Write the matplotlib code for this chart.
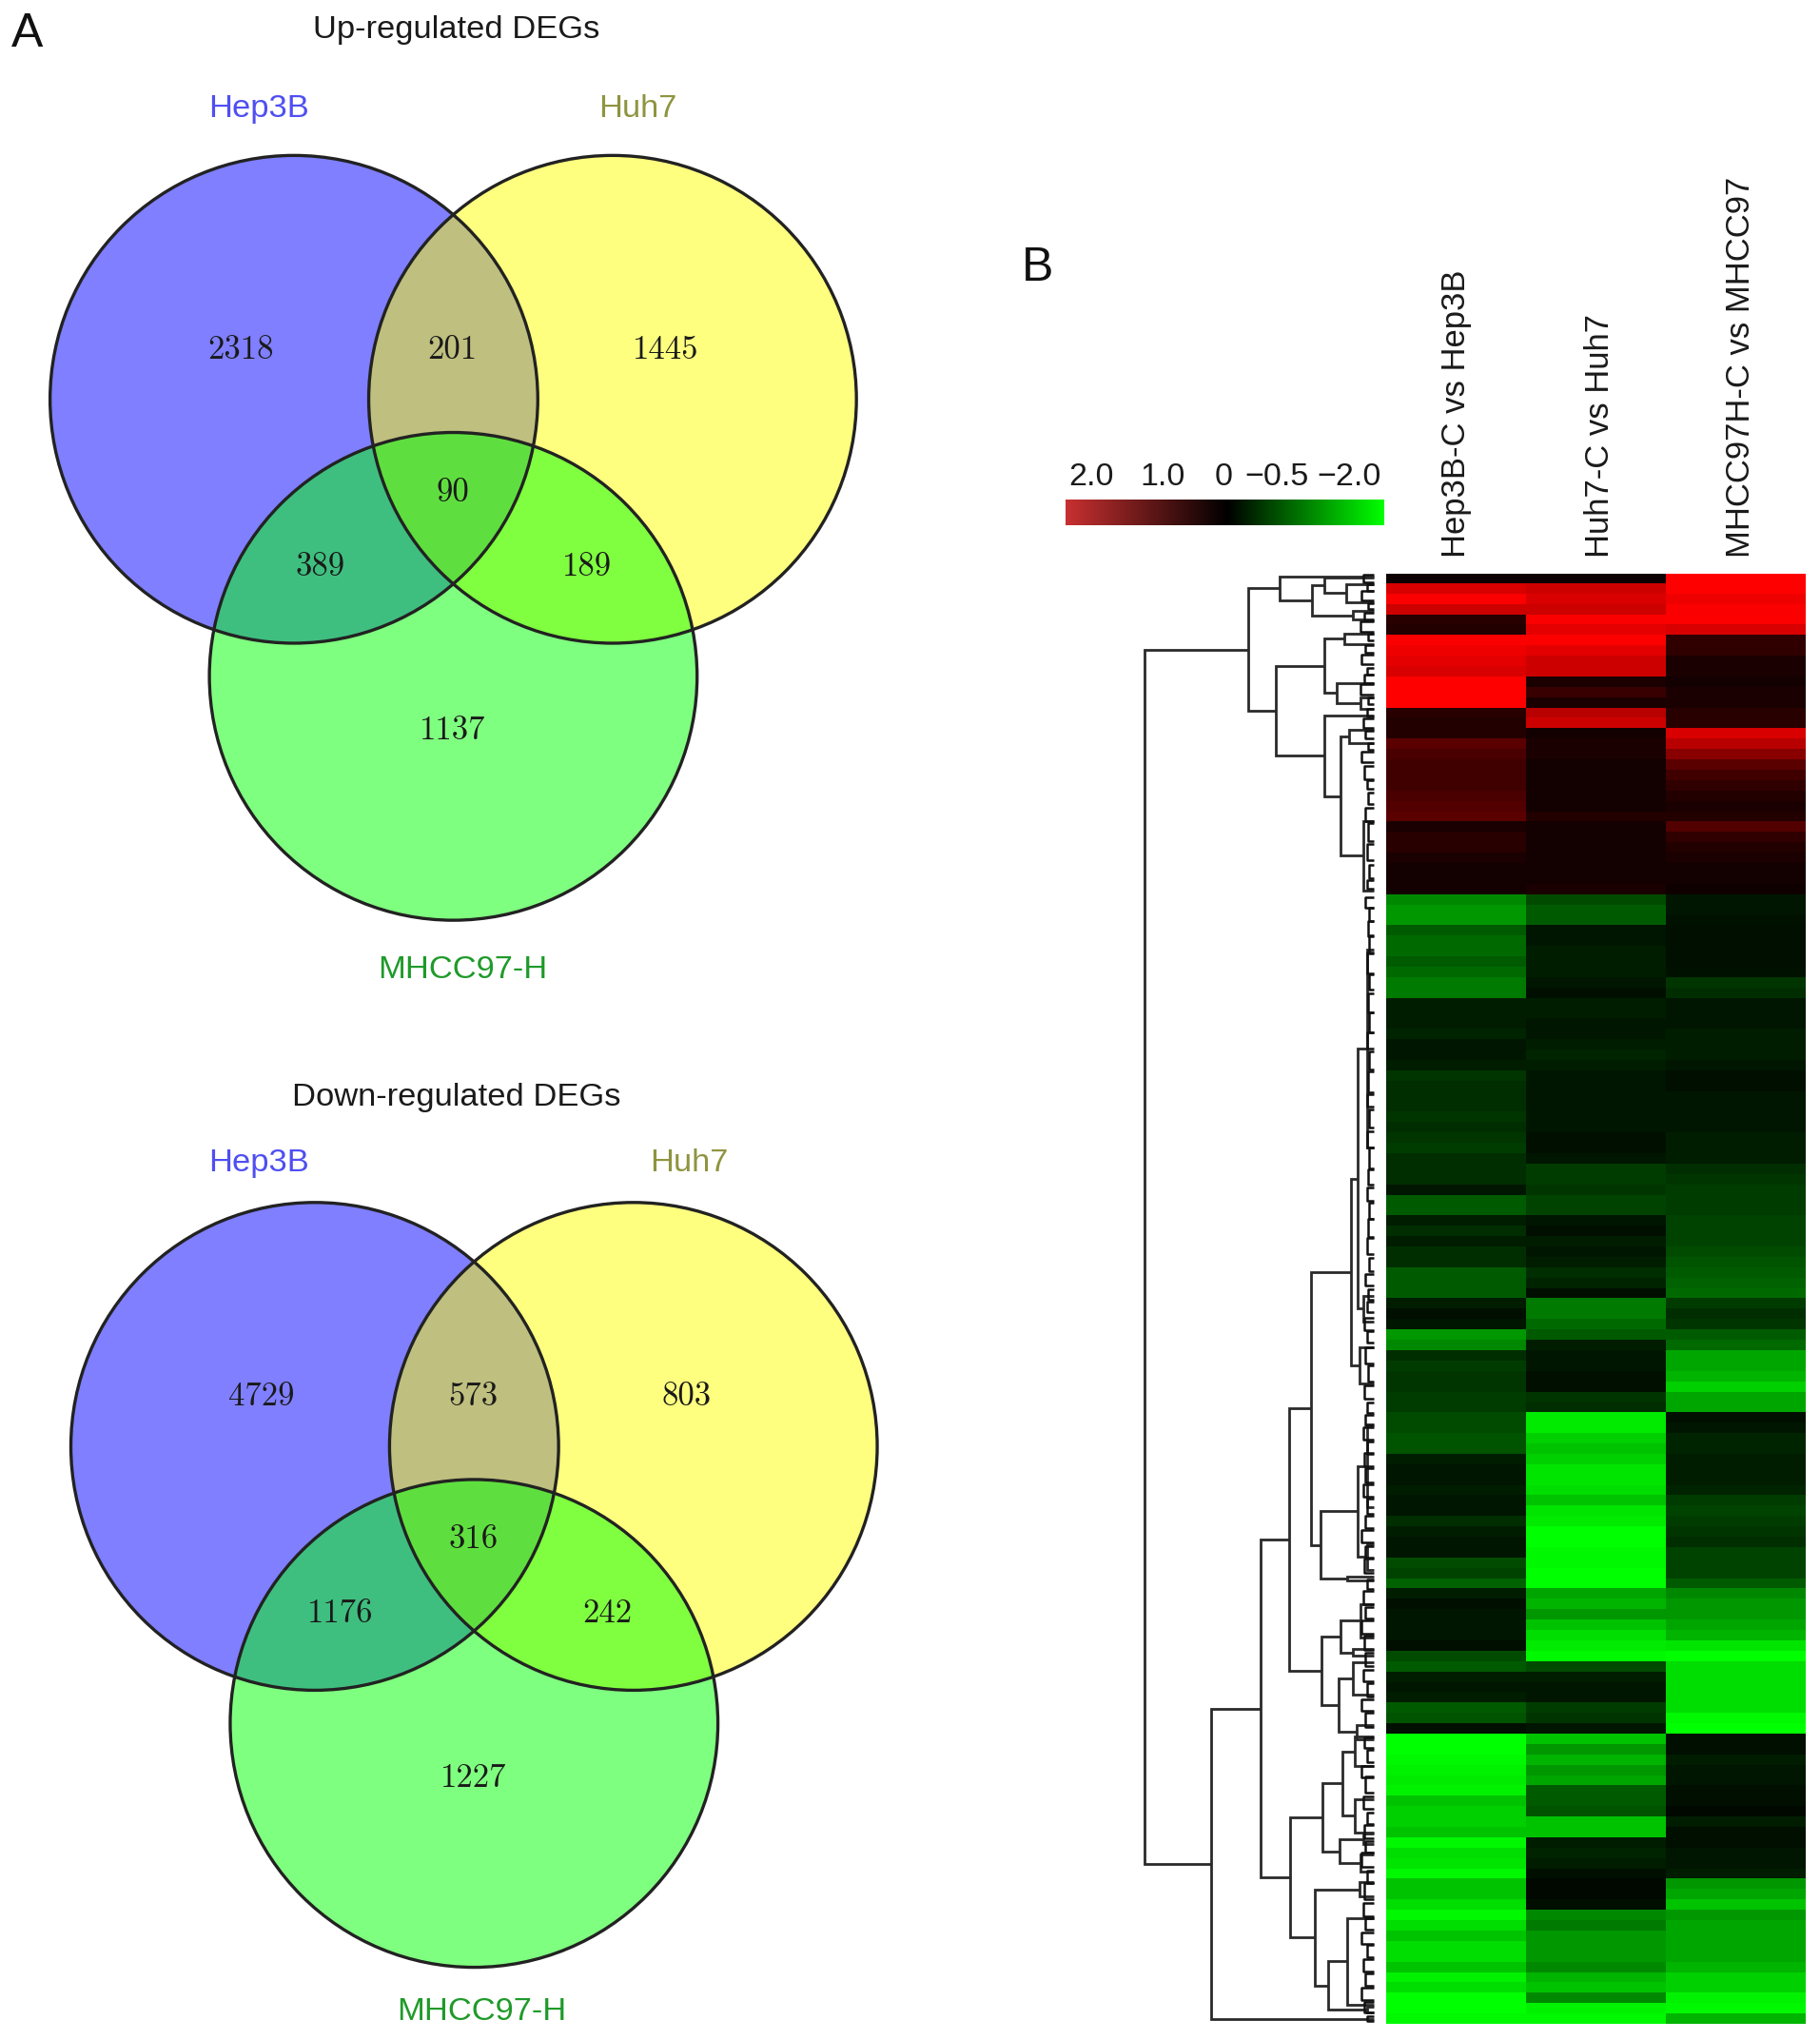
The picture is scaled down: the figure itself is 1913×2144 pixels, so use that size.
import numpy as np
import matplotlib
matplotlib.use("Agg")
import matplotlib.pyplot as plt
from matplotlib.colors import LinearSegmentedColormap
from matplotlib.patches import Circle

# ---------- Venn data ----------
venn_sets = ["Hep3B", "Huh7", "MHCC97-H"]
up_counts = [2318, 201, 1445, 90, 389, 189, 1137]
down_counts = [4729, 573, 803, 316, 1176, 242, 1227]
up_title = "Up-regulated DEGs"
down_title = "Down-regulated DEGs"

# ---------- Heatmap data (log fold change per row, top to bottom) ----------
hep3b_vals = [
    .1, 1.2, 1.5, 1.1, .3, .25, 1.6, 1.4, 1.3, 1.2, 2, 2, 1.9, .3, .25, .25, .6, .5,
    .45, .45, .45, .5, .55, .6, .2, .3, .3, .2, .15, .15, .15,
    -.9, -1, -1, -.6, -.7, -.7, -.6, -.7, -.8, -.8,
    -.2, -.2, -.2, -.25, -.15, -.15, -.2,
    -.35, -.3, -.3, -.3, -.35, -.3, -.35, -.4, -.3, -.3, -.3, -.15,
    -.6, -.6, -.2, -.3, -.2, -.3, -.3, -.6, -.6, -.6, -.2, -.1, -.15, -1, -.9,
    -.3, -.4, -.35, -.35, -.4, -.4,
    -.5, -.5, -.55, -.55, -.2, -.15, -.15, -.2, -.15, -.15, -.3, -.2, -.15, -.15,
    -.5, -.45, -.65, -.2, -.1, -.15, -.15, -.15, -.1, -.5, -.6, -.2, -.15, -.2, -.6, -.55, -.1,
    -2, -2, -1.9, -1.8, -1.7, -1.8, -1.3, -1.4, -1.4, -1.3,
    -1.9, -1.5, -1.6, -1.9, -1.3, -1.3, -1.5, -1.9, -1.5, -1.3, -1.5, -1.5, -1.3, -1.8, -1.5, -2, -2, -1.9,
]
huh7_vals = [
    .1, 1.1, 1.2, 1.1, 1.5, 1.3, 1.7, 1.3, 1.1, 1.1, .2, .4, .2, 1.0, 1.1,
    .15, .2, .2, .15, .15, .15, .15, .15, .25, .15, .15, .15, .15, .15, .15, .2,
    -.5, -.6, -.6, -.15, -.15, -.2, -.2, -.2, -.15, -.1, -.2,
    -.2, -.15, -.15, -.2, -.25, -.2,
    -.15, -.15, -.15, -.15, -.15, -.15, -.1, -.1, -.15,
    -.4, -.4, -.35, -.45, -.45, -.15, -.1, -.2, -.15, -.2, -.3, -.25, -.1,
    -.8, -.8, -.7, -.6, -.2, -.15, -.15, -.1, -.1, -.35, -.3,
    -1.7, -1.7, -1.4, -1.3, -1.4, -1.6, -1.6, -1.5, -1.3, -1.6, -1.7, -2, -2, -1.9, -1.9, -2,
    -2, -1.1, -1.2, -1, -1.3, -1.5, -1.7, -1.9, -.5, -.2, -.15, -.15, -.4, -.35, -.15,
    -1.3, -1, -1.2, -1, -1.1, -.6, -.6, -.55, -1.3, -1.3,
    -.2, -.25, -.2, -.1, -.05, -.05, -.1,
    -.9, -.8, -1, -1, -1, -.9, -1.2, -1.3, -.9, -1.8, -1.9,
]
mhcc97_vals = [
    2, 2, 1.4, 1.5, 1.7, 1.2, .35, .35, .2, .2, .15, .2, .2, .3, .3,
    1.2, 1, .8, .6, .45, .35, .25, .2, .25, .55, .35, .25, .2, .15, .15, .12,
    -.15, -.15, -.12, -.1, -.1, -.1, -.1, -.12, -.35, -.3,
    -.15, -.15, -.15, -.2, -.2, -.2, -.15, -.1, -.1, -.15, -.15, -.15, -.15, -.2, -.2, -.2,
    -.3, -.35, -.4, -.4, -.4, -.45, -.45, -.45, -.5, -.55, -.6, -.65, -.7, -.4, -.3, -.35,
    -.6, -.7, -1.1, -1.1, -1.2, -1.4, -1.1, -1.1,
    -.1, -.15, -.25, -.25, -.2, -.2, -.2, -.25, -.4, -.45, -.4, -.35, -.3, -.45, -.45, -.45,
    -.6, -.9, -1, -1, -1.1, -1.2, -1.6, -2, -1.5, -1.5, -1.5, -1.5, -1.5, -1.9, -2,
    -.1, -.1, -.2, -.15, -.15, -.1, -.1, -.05, -.2, -.1, -.1, -.15, -.15, -.2,
    -1, -1.1, -1.3, -1, -1.1, -1.1, -1.1, -1.1, -1.2, -1.4, -1.4, -1.8, -1.9, -1.2,
]
column_labels = ["Hep3B-C vs Hep3B", "Huh7-C vs Huh7", "MHCC97H-C vs MHCC97"]
cbar_ticks = [839, 894, 941, 982, 1037]
cbar_labels = ["2.0", "1.0", "0", "\u22120.5", "\u22122.0"]

# ---------- Dendrogram: (merge distance, upper child, lower child); a bare number is a leaf row ----------
tree_a1 = (72, 443, (47, (38, 444, (21, 449, 463)), (16, 470, 476)))
tree_a2a = (38, (22, 487, 495), (28, 525, (10, 536, 545)))
tree_a2b = (38, 550, (25, (19, 561, 571), (8, 631, 685)))
tree_a = (96, tree_a1, (75, tree_a2a, tree_a2b))
tree_b1 = (17, (12, (5, 730, 882), (8, 996, 1016)), (11, 1036, 1064))
tree_b2 = (41, (12, (5, 1095, 1159), (5, 1187, 1207)), (20, 1212, 1215))
tree_b3 = (40, (25, (10, 1233, 1259), (16, 1268, 1273)), (27, (16, 1278, 1303), (13, 1326, 1337)))
tree_b4 = (39, (24, (14, 1335, 1358), (14, 1383, 1409)), (26, (8, 1410, 1418), (10, 1426, 1439)))
tree_b5 = (45, (11, 1447, 1458), (35, (20, 1475, 1541), (5, 1543, 1547)))
tree_b = (125, (87, (65, (48, tree_b1, tree_b2), tree_b3), (64, tree_b4, tree_b5)), 1552)
tree_root = (176, tree_a, tree_b)

# small leaf-level merges along the right edge of the dendrogram
fine_y = [445, 452, 458, 466, 474, 482, 490, 499, 507, 516, 522, 530, 539, 548, 556, 565, 574, 582, 594,
          603, 614, 626, 640, 655, 670, 680, 694, 703, 714, 726, 740, 755, 771, 786, 800, 815, 832, 846,
          860, 876, 890, 905, 918, 931, 944, 958, 972, 984, 995, 1005, 1018, 1028, 1042, 1056, 1070, 1082,
          1092, 1102, 1113, 1122, 1134, 1146, 1158, 1170, 1181, 1193, 1204, 1218, 1228, 1240, 1251, 1263,
          1276, 1288, 1299, 1311, 1322, 1340, 1350, 1362, 1372, 1386, 1398, 1408, 1420, 1430, 1443, 1454,
          1468, 1479, 1490, 1500, 1511, 1522, 1533, 1543, 1552]
fine_span = [6, 5, 7, 5, 6, 8, 5, 6, 7, 5, 6, 8, 5, 6, 7, 6, 5, 8, 10,
             7, 9, 10, 14, 12, 10, 6, 8, 10, 12, 14, 16, 12, 14, 16, 12, 14, 16, 10,
             14, 12, 16, 12, 10, 12, 14, 12, 10, 9, 8, 8, 10, 9, 12, 12, 10, 8,
             8, 9, 9, 10, 11, 10, 12, 9, 10, 9, 11, 8, 10, 9, 10, 11,
             10, 9, 10, 9, 11, 8, 10, 9, 12, 10, 9, 10, 9, 11, 9, 12,
             10, 9, 9, 10, 9, 10, 9, 8, 4]
fine_d = [8, 5, 9, 4, 7, 10, 4, 6, 9, 5, 7, 10, 4, 5, 8, 6, 4, 9, 7,
          5, 4, 6, 4, 5, 3, 5, 6, 3, 4, 3, 5, 3, 4, 3, 5, 3, 4, 5,
          3, 5, 3, 4, 5, 3, 4, 5, 3, 6, 4, 5, 7, 5, 6, 4, 7, 5,
          6, 8, 5, 7, 6, 8, 5, 6, 9, 6, 7, 5, 8, 6, 9, 7,
          6, 8, 5, 9, 6, 7, 5, 9, 6, 8, 5, 7, 6, 9, 5, 7,
          8, 6, 9, 5, 8, 6, 9, 7, 5]

# ---------- Layout (reference coordinates) ----------
W, H = 1399.4, 1568.4
fig = plt.figure(figsize=(19.13, 21.44), dpi=100, facecolor="white")
plt.rcParams["font.family"] = ["Liberation Sans", "DejaVu Sans"]


def place(x0, x1, y0, y1):
    return fig.add_axes([x0 / W, 1 - y1 / H, (x1 - x0) / W, (y1 - y0) / H])


ax = fig.add_axes([0, 0, 1, 1])
ax.set_xlim(0, W)
ax.set_ylim(H, 0)
ax.axis("off")

set_colors = ["#0000ff", "#ffff00", "#00ff00"]
label_colors = ["#4f4ff2", "#8f9440", "#1f9a2a"]
number_offsets = [(-41, -38), (122, -38), (286, -38), (122, 72), (20, 129), (225, 129), (122, 255)]


def venn(x_blue, y_top, title, title_xy, counts, label_pos):
    r = 187.5
    centres = [(x_blue, y_top), (x_blue + 245, y_top), (x_blue + 122.5, y_top + 213)]
    for (cx, cy), c in zip(centres, set_colors):
        ax.add_patch(Circle((cx, cy), r, facecolor=c, alpha=0.5, edgecolor="none"))
    for cx, cy in centres:
        ax.add_patch(Circle((cx, cy), r, facecolor="none", edgecolor="#222222", lw=2.4))
    ax.text(*title_xy, title, ha="center", va="center", fontsize=24.8, color="#1a1a1a")
    for name, col, pos in zip(venn_sets, label_colors, label_pos):
        ax.text(*pos, name, ha="center", va="center", fontsize=24.8, color=col)
    for n, (dx, dy) in zip(counts, number_offsets):
        ax.text(x_blue + dx, y_top + dy, str(n), ha="center", va="center",
                fontsize=25, family="cmr10", color="#1a1a1a")


venn(226, 307, up_title, (351, 23), up_counts, [(199, 84), (490, 84), (356, 746)])
venn(242, 1112, down_title, (351, 844), down_counts, [(199, 894), (530, 894), (370, 1547)])

ax.text(21, 26, "A", ha="center", va="center", fontsize=36, color="#111111")
ax.text(798, 206, "B", ha="center", va="center", fontsize=36, color="#111111")

# ---------- Heatmap ----------
heat_nodes = [(-2, "#00ff00"), (-1.5, "#00de00"), (-1, "#009800"), (0, "#000000"),
              (.3, "#280000"), (.6, "#5a0000"), (1.1, "#cd0000"), (1.5, "#fa0000"), (2, "#ff0000")]
heat_cmap = LinearSegmentedColormap.from_list(
    "gbr", [((v + 2) / 4, c) for v, c in heat_nodes])
matrix = np.array([hep3b_vals, huh7_vals, mhcc97_vals]).T
ax_heat = place(1066, 1388, 441, 1556)
ax_heat.imshow(matrix, cmap=heat_cmap, vmin=-2, vmax=2, aspect="auto",
               interpolation="nearest", extent=(0, 3, matrix.shape[0], 0))
ax_heat.set_xticks([0.5, 1.53, 2.54], column_labels, rotation=90, fontsize=24.9, color="#1a1a1a")
ax_heat.xaxis.tick_top()
ax_heat.set_yticks([])
ax_heat.tick_params(axis="x", length=0, pad=12)
for s in ax_heat.spines.values():
    s.set_visible(False)

# ---------- Colour key ----------
cbar_cmap = LinearSegmentedColormap.from_list(
    "key", [(0, "#c83030"), (0.51, "#000000"), (1, "#00ff00")])
ax_key = place(819, 1064, 384, 404)
ax_key.imshow(np.linspace(0, 1, 256)[None, :], cmap=cbar_cmap, aspect="auto",
              extent=(819, 1064, 0, 1))
ax_key.set_xticks(cbar_ticks, cbar_labels, fontsize=24.5, color="#1a1a1a")
ax_key.xaxis.tick_top()
ax_key.set_yticks([])
ax_key.tick_params(axis="x", length=0, pad=6)
for s in ax_key.spines.values():
    s.set_visible(False)

# ---------- Dendrogram ----------
ax_den = place(870, 1060, 441, 1556)
ax_den.set_xlim(186, -4)
ax_den.set_ylim(1556, 441)
ax_den.axis("off")
line_kw = dict(color="#2a2a2a", lw=2.0, solid_capstyle="butt", solid_joinstyle="miter")


def draw(node):
    if not isinstance(node, tuple):
        return 0, node
    d, upper, lower = node
    d1, y1 = draw(upper)
    d2, y2 = draw(lower)
    ax_den.plot([d1, d, d, d2], [y1, y1, y2, y2], **line_kw)
    return d, (y1 + y2) / 2


draw(tree_root)
for y, span, d in zip(fine_y, fine_span, fine_d):
    ax_den.plot([0, d, d, 0], [y - span / 2, y - span / 2, y + span / 2, y + span / 2],
                color="#111111", lw=1.8, solid_capstyle="butt")

fig.savefig("out.png", dpi=100, facecolor="white")
